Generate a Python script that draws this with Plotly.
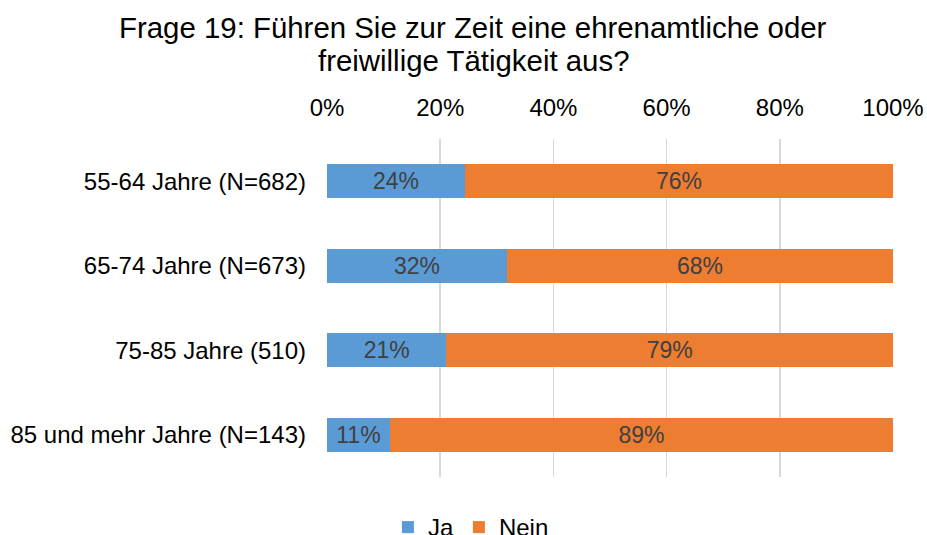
import plotly.graph_objects as go

categories = ["55-64 Jahre (N=682)", "65-74 Jahre (N=673)", "75-85 Jahre (510)", "85 und mehr Jahre (N=143)"]
ja = [24.4, 31.8, 21.1, 11.1]
nein = [75.6, 68.2, 78.9, 88.9]
ja_labels = ["24%", "32%", "21%", "11%"]
nein_labels = ["76%", "68%", "79%", "89%"]
tick_vals = [0, 20, 40, 60, 80, 100]
tick_text = ["0%", "20%", "40%", "60%", "80%", "100%"]
title_lines = ["Frage 19: Führen Sie zur Zeit eine ehrenamtliche oder", "freiwillige Tätigkeit aus?"]

FONT = "Liberation Sans, Arial, sans-serif"

fig = go.Figure()
fig.add_trace(go.Bar(
    y=categories, x=ja, name="Ja", orientation="h",
    marker=dict(color="#5b9bd5", line=dict(width=0)),
    text=ja_labels, textposition="inside", insidetextanchor="middle",
    textfont=dict(color="#404040", size=23, family=FONT),
    hoverinfo="skip",
))
fig.add_trace(go.Bar(
    y=categories, x=nein, name="Nein", orientation="h",
    marker=dict(color="#ed7d31", line=dict(width=0)),
    text=nein_labels, textposition="inside", insidetextanchor="middle",
    textfont=dict(color="#404040", size=23, family=FONT),
    hoverinfo="skip",
))

# title as two single-line annotations for exact line spacing
title_y = [27, 61]
for line, yc in zip(title_lines, title_y):
    fig.add_annotation(
        text=line, xref="paper", yref="paper",
        x=(473 - 327) / 566, y=1 + (139 - yc) / 338,
        xanchor="center", yanchor="middle", showarrow=False,
        font=dict(size=29.4, family=FONT, color="#000000"),
    )

fig.update_layout(
    width=927, height=535,
    barmode="stack", bargap=0.6,
    margin=dict(l=327, r=34, t=139, b=58, autoexpand=False),
    paper_bgcolor="white", plot_bgcolor="white",
    font=dict(family=FONT, color="#000000", size=24),
    xaxis=dict(
        side="top", range=[0, 100], tickvals=tick_vals, ticktext=tick_text,
        showgrid=True, gridcolor="#d9d9d9", gridwidth=1.5,
        zeroline=False, showline=False, ticks="", automargin=False,
        ticklabelstandoff=17,
        tickfont=dict(size=24, family=FONT, color="#000000"),
        fixedrange=True,
    ),
    yaxis=dict(
        categoryorder="array", categoryarray=categories, autorange="reversed",
        showgrid=False, zeroline=False, showline=False, ticks="", automargin=False,
        ticklabelstandoff=20,
        tickfont=dict(size=24, family=FONT, color="#000000"),
        fixedrange=True,
    ),
    showlegend=True,
    legend=dict(
        orientation="h", xref="container", yref="container",
        x=0.508, xanchor="center", y=(535 - 505) / 535, yanchor="top",
        font=dict(size=24, family=FONT, color="#000000"),
        traceorder="normal", itemclick=False, itemdoubleclick=False,
        itemwidth=30, tracegroupgap=0,
    ),
)

fig.write_html(
    "out.html",
    config={"displayModeBar": False, "staticPlot": True},
    post_script="document.body.style.margin='0';document.body.style.overflow='hidden';",
)
